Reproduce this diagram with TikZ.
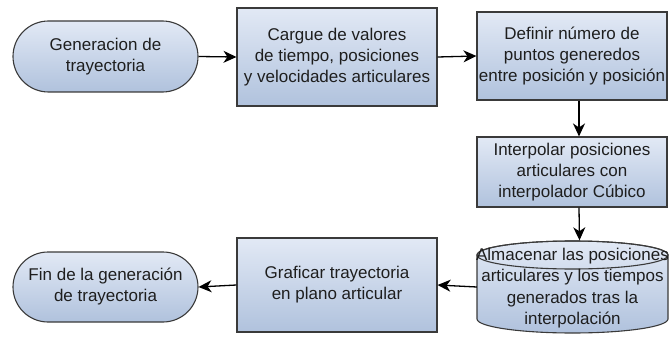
\documentclass[tikz,border=0pt]{standalone}
\usepackage{fontspec}
\setmainfont{Liberation Sans}
\usetikzlibrary{shapes.misc,arrows.meta}
\definecolor{boxtop}{HTML}{E2E9F5}
\definecolor{boxbot}{HTML}{B0C2DD}
\definecolor{edge}{HTML}{3A3A3A}
\definecolor{txt}{HTML}{1E1E1E}
\tikzset{
  box/.style={draw=edge, line width=1.1pt, top color=boxtop, bottom color=boxbot,
    align=center, inner sep=0pt, text=txt,
    font=\fontsize{17}{21}\selectfont},
  term/.style={box, rounded rectangle},
  flow/.style={draw=black, line width=1.3pt, -{Stealth[length=13pt,width=12pt,inset=4pt]}},
}
\begin{document}
\begin{tikzpicture}[x=1pt,y=-1pt]
\path[use as bounding box] (0,0) rectangle (670,337);
\node[term, minimum width=185pt, minimum height=71pt] (start) at (105.5,56.5) {Generacion de\\trayectoria};
\node[box, minimum width=200pt, minimum height=98pt] (cargue) at (337,57) {Cargue de valores\\de tiempo, posiciones\\y velocidades articulares};
\node[box, minimum width=190pt, minimum height=88pt] (definir) at (572,56) {Definir número de\\puntos generedos\\entre posición y posición};
\node[box, minimum width=190pt, minimum height=70pt] (interp) at (572,172) {Interpolar posiciones\\articulares con\\interpolador Cúbico};
% cylinder
\path[draw=edge, line width=1.1pt, top color=boxtop, bottom color=boxbot]
  (477,255) -- (477,319) arc[start angle=180, end angle=360, x radius=95.5pt, y radius=14pt]
  -- (668,255) arc[start angle=0, end angle=180, x radius=95.5pt, y radius=14pt] -- cycle;
\draw[edge, line width=1.1pt] (572.5,255) ellipse[x radius=95.5pt, y radius=14pt];
\node[minimum width=191pt, minimum height=93pt, inner sep=0pt] (cyl) at (572.5,287) {};
\node[align=center, text=txt, font=\fontsize{17}{21.5}\selectfont] (cyltext) at (572.5,288) {Almacenar las posiciones\\articulares y los tiempos\\generados tras la\\interpolación};
\node[box, minimum width=200pt, minimum height=94pt] (graf) at (337,285) {Graficar trayectoria\\en plano articular};
\node[term, minimum width=185pt, minimum height=70pt] (fin) at (105.5,287) {Fin de la generación\\de trayectoria};
\draw[flow] (start.east) -- (cargue.west);
\draw[flow] (cargue.east) -- (definir.west);
\draw[flow] ([xshift=7pt]definir.south) -- ([xshift=7pt]interp.north);
\draw[flow] ([xshift=7pt]interp.south) -- ([xshift=7pt]cyl.north);
\draw[flow] (cyl.west) -- (graf.east);
\draw[flow] (graf.west) -- (fin.east);
\end{tikzpicture}
\end{document}
